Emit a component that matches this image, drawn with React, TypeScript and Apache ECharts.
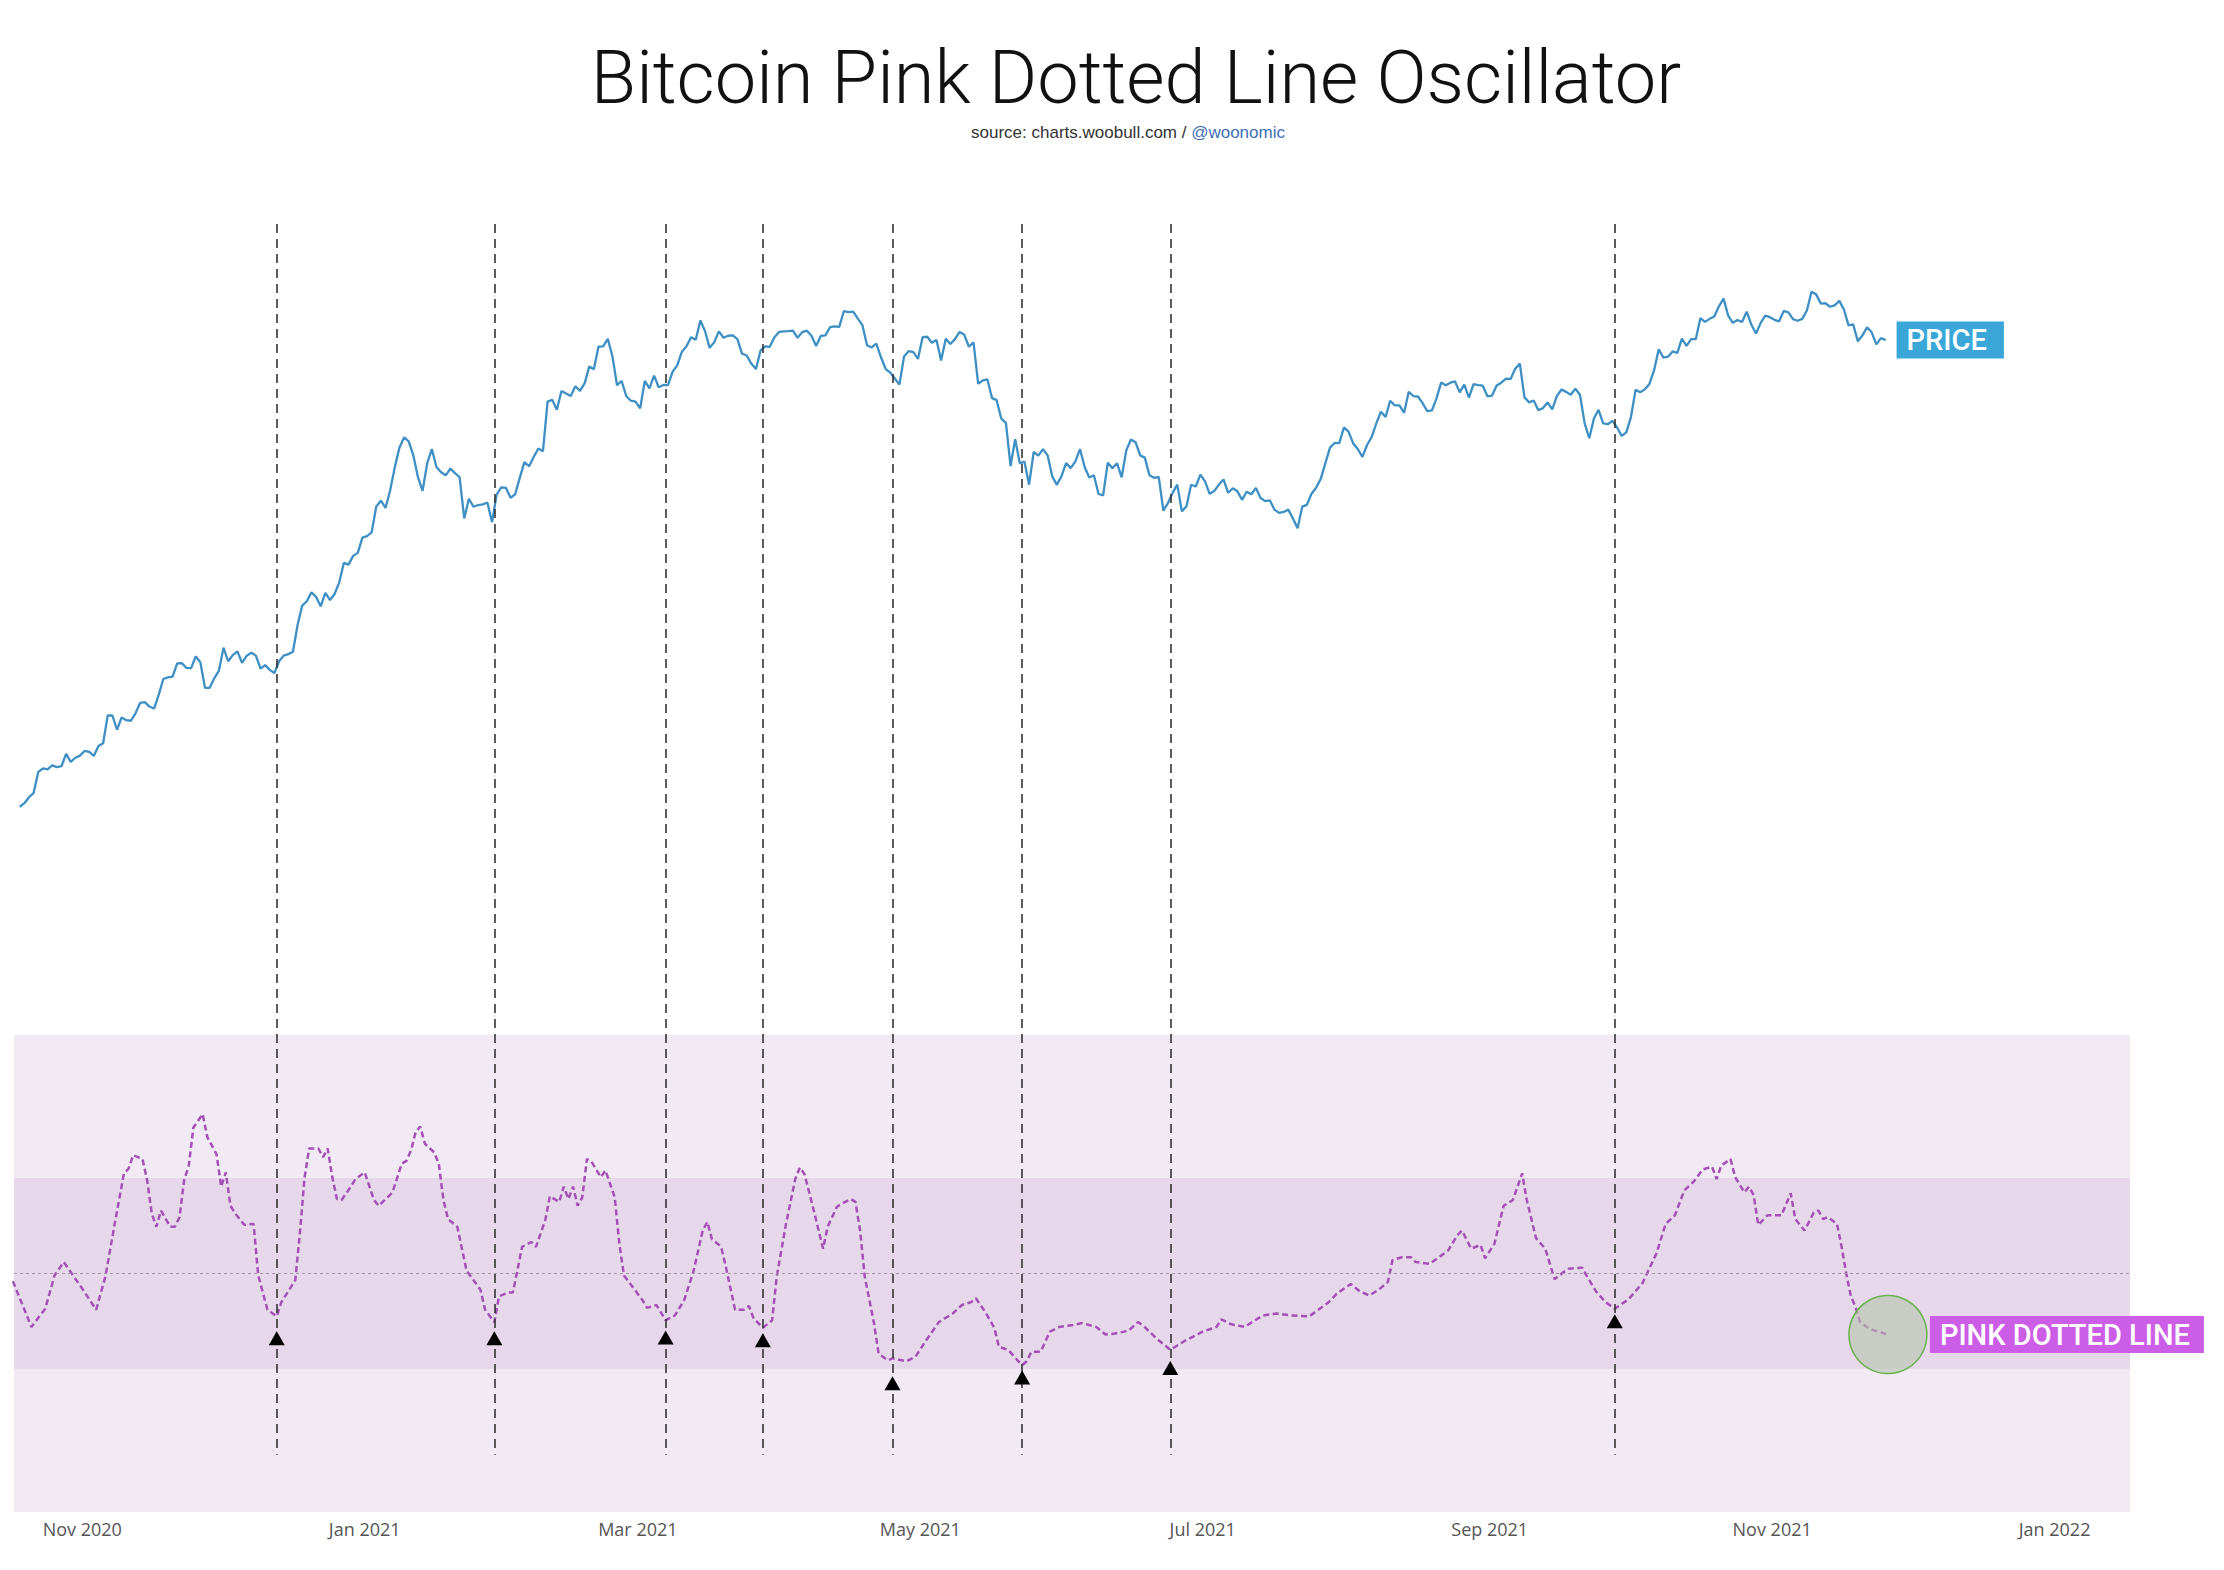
import { useEffect, useRef } from 'react'
import * as echarts from 'echarts'

const TITLE = 'Bitcoin Pink Dotted Line Oscillator'
const MONTHS = ['Jan', 'Feb', 'Mar', 'Apr', 'May', 'Jun', 'Jul', 'Aug', 'Sep', 'Oct', 'Nov', 'Dec']

// BTC daily close (USD), one value per day from priceStart on
const priceStart = [2020, 9, 18, 12] // y, m(0-based), d, h
const priceOct2020 = [11360, 11500, 11740, 11920, 12820, 12970, 12930, 13110, 13030, 13070, 13640, 13270, 13460, 13560, 13780]
const priceNov2020 = [13740, 13550, 14020, 14150, 15590, 15580, 14830, 15480, 15330, 15300, 15700, 16280, 16320, 16070, 15960, 16730, 17680, 17780, 17820, 18660, 18680, 18370, 18360, 19110, 18730, 17150, 17140, 17720, 18180, 19700]
const priceDec2020 = [18800, 19200, 19450, 18700, 19150, 19360, 19170, 18320, 18550, 18250, 18040, 18800, 19170, 19270, 19430, 21310, 22800, 23140, 23870, 23480, 22740, 23820, 23240, 23730, 24710, 26440, 26270, 27080, 27360, 28840, 29000]
const priceJan2021 = [29370, 32130, 32780, 31970, 33990, 36820, 39370, 40800, 40250, 38350, 35570, 33920, 37320, 39190, 36830, 36180, 35790, 36630, 36070, 35550, 30830, 33000, 32100, 32290, 32370, 32570, 30430, 33470, 34320, 34270, 33110]
const priceFeb2021 = [33520, 35510, 37470, 36930, 38140, 39270, 38900, 46200, 46480, 44920, 47910, 47500, 47110, 48720, 47940, 49200, 52150, 51680, 55890, 55920, 57410, 54090, 48890, 49620, 47060, 46340, 46190, 45140]
const priceMar2021 = [49630, 48380, 50540, 48560, 48930, 48910, 51210, 52380, 54880, 55960, 57750, 57230, 61190, 59000, 55640, 56760, 58920, 57640, 58030, 58100, 57350, 54530, 54200, 52700, 51700, 55140, 55950, 55840, 57720, 58800, 58920]
const priceApr2021 = [58980, 59090, 57600, 58760, 59060, 58020, 56020, 57990, 58100, 59770, 59960, 59840, 63220, 62970, 63110, 61570, 60200, 56150, 55720, 56470, 53910, 51760, 51090, 50050, 49000, 54020, 55030, 54820, 53560, 57750]
const priceMay2021 = [57830, 56630, 57200, 53250, 57440, 56400, 57360, 58800, 58230, 55860, 56700, 49150, 49720, 49880, 46760, 46430, 43540, 42910, 36960, 40550, 37300, 37530, 34650, 38800, 38320, 39190, 38350, 35680, 34630, 35680, 37340]
const priceJun2021 = [36690, 37570, 39190, 36840, 35520, 35800, 33550, 33400, 37390, 36690, 37310, 35550, 39020, 40520, 40140, 38350, 38050, 35790, 35480, 35600, 31680, 32510, 33680, 34660, 31590, 32160, 34640, 34430, 35870, 35040]
const priceJul2021 = [33570, 33900, 34660, 35280, 33690, 34220, 33860, 32880, 33810, 33520, 34260, 33090, 32730, 32820, 31780, 31420, 31530, 31780, 30820, 29790, 32110, 32310, 33580, 34290, 35350, 37340, 39400, 40030, 40010, 42240, 41630]
const priceAug2021 = [39970, 39200, 38150, 39750, 40870, 42840, 44600, 43800, 46330, 45600, 45590, 44430, 47790, 47100, 47020, 45940, 44690, 44800, 46720, 49340, 48900, 49320, 49550, 47710, 48990, 46850, 49070, 48900, 48810, 47050, 47170]
const priceSep2021 = [48850, 49330, 50040, 49950, 51770, 52700, 46880, 46080, 46370, 44850, 45170, 46060, 44960, 47090, 48180, 47780, 47300, 48330, 47260, 42840, 40690, 43570, 44900, 42840, 42720, 43210, 42240, 41030, 41520, 43790]
const priceOct2021 = [48120, 47710, 48200, 49110, 51510, 55360, 53810, 53970, 54970, 54660, 57470, 56010, 57370, 57350, 61670, 60880, 61530, 62020, 64260, 65990, 62210, 60690, 61290, 60860, 63080, 60330, 58470, 60620, 62230, 61890, 61320]
const priceNov2021 = [61000, 63230, 62940, 61450, 61130, 61530, 63330, 67570, 66970, 64880, 64950, 64160, 64470, 65470, 63560, 60140, 60370, 56940, 58120, 59760, 58730, 56310, 57570, 57160]

const priceValues = [
  ...priceOct2020, ...priceNov2020, ...priceDec2020, ...priceJan2021, ...priceFeb2021, ...priceMar2021,
  ...priceApr2021, ...priceMay2021, ...priceJun2021, ...priceJul2021, ...priceAug2021, ...priceSep2021,
  ...priceOct2021, ...priceNov2021,
]

// oscillator
const pinkLinePoints: [string, number][] = [
  ['2020-10-17', -0.08], ['2020-10-21', -0.56], ['2020-10-24', -0.37], ['2020-10-26', -0.02], ['2020-10-28', 0.12],
  ['2020-10-30', -0.02], ['2020-11-01', -0.16], ['2020-11-04', -0.38], ['2020-11-06', -0.03], ['2020-11-08', 0.52],
  ['2020-11-10', 1.05], ['2020-11-11', 1.1], ['2020-11-12', 1.24], ['2020-11-14', 1.2], ['2020-11-15', 0.98],
  ['2020-11-16', 0.63], ['2020-11-17', 0.49], ['2020-11-18', 0.66], ['2020-11-20', 0.49], ['2020-11-21', 0.49],
  ['2020-11-22', 0.59], ['2020-11-23', 0.98], ['2020-11-24', 1.13], ['2020-11-25', 1.53], ['2020-11-27', 1.67],
  ['2020-11-28', 1.43], ['2020-11-30', 1.25], ['2020-12-01', 0.91], ['2020-12-02', 1.06], ['2020-12-03', 0.71],
  ['2020-12-04', 0.63], ['2020-12-06', 0.51], ['2020-12-08', 0.52], ['2020-12-09', -0.02], ['2020-12-11', -0.38],
  ['2020-12-13', -0.45], ['2020-12-14', -0.3], ['2020-12-17', -0.07], ['2020-12-18', 0.42], ['2020-12-19', 1.0],
  ['2020-12-20', 1.31], ['2020-12-22', 1.31], ['2020-12-23', 1.22], ['2020-12-24', 1.31], ['2020-12-25', 1.01],
  ['2020-12-26', 0.78], ['2020-12-27', 0.77], ['2020-12-29', 0.91], ['2020-12-30', 0.99], ['2021-01-01', 1.06],
  ['2021-01-03', 0.77], ['2021-01-04', 0.71], ['2021-01-06', 0.8], ['2021-01-07', 0.85], ['2021-01-09', 1.15],
  ['2021-01-10', 1.18], ['2021-01-11', 1.29], ['2021-01-12', 1.48], ['2021-01-13', 1.54], ['2021-01-14', 1.36],
  ['2021-01-16', 1.27], ['2021-01-17', 1.15], ['2021-01-18', 0.77], ['2021-01-19', 0.57], ['2021-01-21', 0.49],
  ['2021-01-23', 0.03], ['2021-01-26', -0.17], ['2021-01-27', -0.38], ['2021-01-29', -0.51], ['2021-01-30', -0.24],
  ['2021-02-01', -0.2], ['2021-02-02', -0.2], ['2021-02-04', 0.28], ['2021-02-06', 0.33], ['2021-02-07', 0.28],
  ['2021-02-09', 0.56], ['2021-02-10', 0.81], ['2021-02-11', 0.78], ['2021-02-12', 0.75], ['2021-02-13', 0.91],
  ['2021-02-14', 0.78], ['2021-02-15', 0.91], ['2021-02-16', 0.71], ['2021-02-17', 0.8], ['2021-02-18', 1.2],
  ['2021-02-19', 1.17], ['2021-02-21', 1.01], ['2021-02-22', 1.08], ['2021-02-24', 0.8], ['2021-02-25', 0.31],
  ['2021-02-26', -0.02], ['2021-03-02', -0.28], ['2021-03-03', -0.36], ['2021-03-05', -0.33], ['2021-03-07', -0.49],
  ['2021-03-09', -0.44], ['2021-03-11', -0.28], ['2021-03-13', 0.02], ['2021-03-15', 0.45], ['2021-03-16', 0.54],
  ['2021-03-17', 0.36], ['2021-03-19', 0.28], ['2021-03-20', 0.07], ['2021-03-22', -0.38], ['2021-03-24', -0.38],
  ['2021-03-25', -0.34], ['2021-03-26', -0.47], ['2021-03-28', -0.57], ['2021-03-30', -0.49], ['2021-03-31', -0.03],
  ['2021-04-02', 0.52], ['2021-04-04', 0.99], ['2021-04-05', 1.11], ['2021-04-06', 1.04], ['2021-04-08', 0.66],
  ['2021-04-10', 0.26], ['2021-04-11', 0.49], ['2021-04-13', 0.7], ['2021-04-14', 0.73], ['2021-04-16', 0.78],
  ['2021-04-17', 0.75], ['2021-04-18', 0.45], ['2021-04-19', -0.03], ['2021-04-21', -0.52], ['2021-04-22', -0.84],
  ['2021-04-24', -0.91], ['2021-04-25', -0.89], ['2021-04-28', -0.92], ['2021-04-30', -0.87], ['2021-05-02', -0.72],
  ['2021-05-05', -0.51], ['2021-05-08', -0.42], ['2021-05-10', -0.33], ['2021-05-12', -0.3], ['2021-05-13', -0.26],
  ['2021-05-15', -0.4], ['2021-05-17', -0.57], ['2021-05-18', -0.77], ['2021-05-20', -0.8], ['2021-05-22', -0.91],
  ['2021-05-23', -0.96], ['2021-05-24', -0.92], ['2021-05-25', -0.82], ['2021-05-27', -0.82], ['2021-05-29', -0.61],
  ['2021-05-31', -0.56], ['2021-06-03', -0.54], ['2021-06-05', -0.52], ['2021-06-08', -0.56], ['2021-06-10', -0.64],
  ['2021-06-12', -0.63], ['2021-06-15', -0.6], ['2021-06-17', -0.51], ['2021-06-18', -0.54], ['2021-06-21', -0.68],
  ['2021-06-24', -0.8], ['2021-06-25', -0.77], ['2021-06-27', -0.71], ['2021-07-01', -0.61], ['2021-07-04', -0.56],
  ['2021-07-05', -0.48], ['2021-07-07', -0.53], ['2021-07-10', -0.56], ['2021-07-14', -0.44], ['2021-07-17', -0.42],
  ['2021-07-20', -0.44], ['2021-07-24', -0.45], ['2021-07-28', -0.31], ['2021-07-30', -0.21], ['2021-08-02', -0.11],
  ['2021-08-04', -0.19], ['2021-08-06', -0.23], ['2021-08-08', -0.17], ['2021-08-10', -0.09], ['2021-08-11', 0.14],
  ['2021-08-13', 0.17], ['2021-08-15', 0.17], ['2021-08-16', 0.12], ['2021-08-19', 0.1], ['2021-08-21', 0.17],
  ['2021-08-23', 0.24], ['2021-08-25', 0.4], ['2021-08-26', 0.45], ['2021-08-28', 0.26], ['2021-08-30', 0.3],
  ['2021-08-31', 0.16], ['2021-09-02', 0.31], ['2021-09-04', 0.71], ['2021-09-06', 0.77], ['2021-09-08', 1.05],
  ['2021-09-09', 0.77], ['2021-09-11', 0.37], ['2021-09-13', 0.26], ['2021-09-15', -0.06], ['2021-09-16', -0.02],
  ['2021-09-18', 0.05], ['2021-09-21', 0.06], ['2021-09-22', -0.03], ['2021-09-24', -0.19], ['2021-09-26', -0.3],
  ['2021-09-28', -0.37], ['2021-10-01', -0.27], ['2021-10-04', -0.1], ['2021-10-07', 0.21], ['2021-10-09', 0.52],
  ['2021-10-11', 0.61], ['2021-10-13', 0.87], ['2021-10-15', 0.96], ['2021-10-17', 1.09], ['2021-10-19', 1.12],
  ['2021-10-20', 0.99], ['2021-10-21', 1.13], ['2021-10-23', 1.2], ['2021-10-24', 1.01], ['2021-10-26', 0.85],
  ['2021-10-27', 0.91], ['2021-10-28', 0.82], ['2021-10-29', 0.51], ['2021-10-31', 0.61], ['2021-11-01', 0.61],
  ['2021-11-03', 0.61], ['2021-11-05', 0.84], ['2021-11-06', 0.57], ['2021-11-08', 0.45], ['2021-11-10', 0.64],
  ['2021-11-11', 0.66], ['2021-11-12', 0.57], ['2021-11-13', 0.59], ['2021-11-15', 0.52], ['2021-11-16', 0.28],
  ['2021-11-17', 0.0], ['2021-11-18', -0.24], ['2021-11-19', -0.35], ['2021-11-20', -0.51], ['2021-11-22', -0.58],
  ['2021-11-24', -0.61], ['2021-11-26', -0.64],
]

// bottoms flagged on the chart (dashed line + triangle)
const signalDates = ['2020-12-13', '2021-01-29', '2021-03-07', '2021-03-28', '2021-04-25', '2021-05-23', '2021-06-24', '2021-09-28']
const signalMarks = [-0.68, -0.68, -0.67, -0.7, -1.15, -1.09, -0.99, -0.5]

const OUTER_BAND = [-2.5, 2.5]
const INNER_BAND = [-1, 1]
const SIGNAL_TOP = 11
const SIGNAL_BOTTOM = -1.9

const DAY = 86400000

// local-time timestamp for 'YYYY-MM-DD' (same as echarts' own parsing)
function toTime(s: string) {
  const [y, m, d] = s.split('-').map(Number)
  return new Date(y, m - 1, d).getTime()
}

export default function App() {
  const chartRef = useRef<HTMLDivElement>(null)

  useEffect(() => {
    if (!chartRef.current) return
    document.body.style.margin = '0'
    const chart = echarts.init(chartRef.current, undefined, { renderer: 'svg' })

    const t0 = new Date(priceStart[0], priceStart[1], priceStart[2], priceStart[3]).getTime()
    const priceData = priceValues.map((v, i) => [t0 + i * DAY, v])
    const pinkData = pinkLinePoints.map(([d, v]) => [toTime(d), v])
    const last = pinkData[pinkData.length - 1]

    const option: echarts.EChartsOption = {
      backgroundColor: '#fff',
      animation: false,
      graphic: [
        {
          type: 'text',
          x: 1136,
          y: 77,
          style: {
            text: TITLE,
            fontFamily: 'Roboto',
            fontWeight: 300,
            fontSize: 74,
            fill: '#111',
            align: 'center',
            verticalAlign: 'middle',
          } as any,
        },
        {
          type: 'text',
          x: 1128,
          y: 132,
          style: {
            text: '{a|source: charts.woobull.com / }{b|@woonomic}',
            align: 'center',
            verticalAlign: 'middle',
            rich: {
              a: { fontFamily: 'Liberation Sans', fontSize: 17, fill: '#333' },
              b: { fontFamily: 'Liberation Sans', fontSize: 17, fill: '#3e6fb6' },
            },
          } as any,
        },
      ],
      grid: { left: 14, right: 94, top: 224, bottom: 58 },
      xAxis: {
        type: 'time',
        min: new Date(2020, 9, 17, 6).getTime(),
        max: new Date(2022, 0, 17, 7).getTime(),
        splitNumber: 7,
        axisLine: { show: false },
        axisTick: { show: false },
        splitLine: { show: false },
        axisLabel: {
          margin: 8,
          color: '#555',
          fontFamily: 'Open Sans',
          fontSize: 18,
          formatter: (val: number) => {
            const d = new Date(val)
            if (d.getDate() !== 1 || d.getHours() !== 0 || d.getMonth() % 2 !== 0) return ''
            return `${MONTHS[d.getMonth()]} ${d.getFullYear()}`
          },
        },
      },
      yAxis: [
        { type: 'log', min: 988, max: 85450, show: false },
        { type: 'value', min: -2.5, max: 11, show: false },
      ],
      series: [
        {
          name: 'Price',
          type: 'line',
          yAxisIndex: 0,
          data: priceData,
          showSymbol: false,
          lineStyle: { color: '#3d8fc4', width: 2.3 },
          endLabel: {
            show: true,
            formatter: 'PRICE',
            distance: 11,
            color: '#fff',
            backgroundColor: '#3aa7d8',
            padding: [4, 17, 2, 10],
            fontFamily: 'Roboto',
            fontWeight: 500,
            fontSize: 29,
            lineHeight: 31,
          },
          z: 3,
        },
        {
          name: 'Pink Dotted Line',
          type: 'line',
          yAxisIndex: 1,
          data: pinkData,
          showSymbol: false,
          lineStyle: { color: '#a451b6', width: 2.5, type: [6, 3.5] },
          endLabel: {
            show: true,
            formatter: 'PINK DOTTED LINE',
            distance: 42,
            color: '#fff',
            backgroundColor: '#cc5de6',
            padding: [4, 14, 2, 10],
            fontFamily: 'Roboto',
            fontWeight: 500,
            fontSize: 29,
            lineHeight: 31,
          },
          markArea: {
            silent: true,
            data: [
              [
                { yAxis: OUTER_BAND[0], itemStyle: { color: '#f1e9f3', opacity: 1 } },
                { yAxis: OUTER_BAND[1] },
              ],
              [
                { yAxis: INNER_BAND[0], itemStyle: { color: '#e6d8ea', opacity: 1 } },
                { yAxis: INNER_BAND[1] },
              ],
            ] as any,
          },
          markLine: {
            silent: true,
            symbol: ['none', 'none'],
            label: { show: false },
            data: [
              { yAxis: 0, lineStyle: { color: '#a596a8', width: 1, type: [3, 3] } },
              ...signalDates.map((d) => [
                { coord: [toTime(d), SIGNAL_TOP], lineStyle: { color: '#333', width: 1.6, type: [9, 6] } },
                { coord: [toTime(d), SIGNAL_BOTTOM] },
              ]),
            ] as any,
          },
          z: 3,
        },
        {
          name: 'Signals',
          type: 'scatter',
          yAxisIndex: 1,
          data: signalDates.map((d, i) => [toTime(d), signalMarks[i]]),
          symbol: 'triangle',
          symbolSize: [16, 14],
          itemStyle: { color: '#000', opacity: 1 },
          silent: true,
          z: 6,
        },
        {
          name: 'Latest',
          type: 'scatter',
          yAxisIndex: 1,
          data: [last],
          symbol: 'circle',
          symbolSize: 78,
          itemStyle: { color: 'rgba(182,196,172,0.6)', borderColor: '#6ab150', borderWidth: 1.5, opacity: 1 },
          silent: true,
          z: 7,
        },
      ],
    }

    chart.setOption(option)
    return () => chart.dispose()
  }, [])

  return <div ref={chartRef} style={{ width: 2224, height: 1570 }} />
}
